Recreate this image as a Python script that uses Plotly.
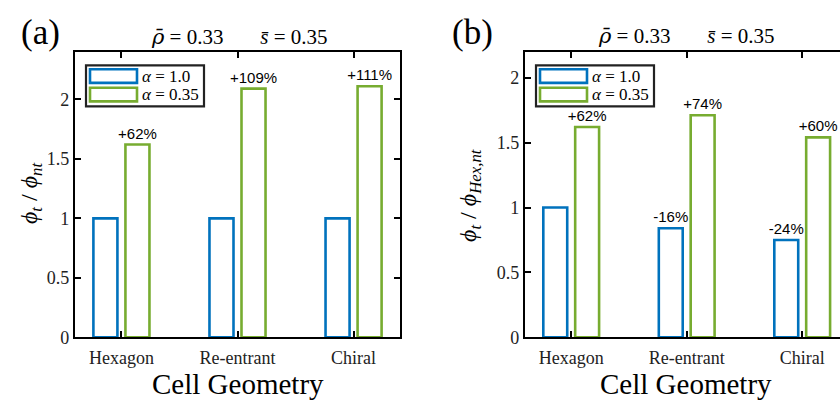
import plotly.graph_objects as go

W, H = 840, 403

categories = ["Hexagon", "Re-entrant", "Chiral"]
series_names = ["α = 1.0", "α = 0.35"]

# (a) each geometry normalised by its own non-textured value
a_alpha_10 = [1.0, 1.0, 1.0]
a_alpha_035 = [1.62, 2.09, 2.11]
a_text_10 = ["", "", ""]
a_text_035 = ["+62%", "+109%", "+111%"]

# (b) every geometry normalised by the non-textured hexagon
b_alpha_10 = [1.0, 0.84, 0.75]
b_alpha_035 = [1.62, 1.71, 1.54]
b_text_10 = ["", "-16%", "-24%"]
b_text_035 = ["+62%", "+74%", "+60%"]

y_ticks = [0, 0.5, 1, 1.5, 2]
y_ticktext = ["0", "0.5", "1", "1.5", "2"]

BLUE = "#0072BD"
GREEN = "#77AC30"
SERIF = "Liberation Serif"
SANS = "Liberation Sans"

# plot areas in pixels: (left, top, right, bottom)
box_a = (75, 53, 400, 346)
box_b = (525, 53, 840, 346)


def px(x):
    return x / W


def py(y):
    return 1 - y / H


fig = go.Figure()

for vals, txt, col, name, xa, ya in [
    (a_alpha_10, a_text_10, BLUE, series_names[0], "x", "y"),
    (a_alpha_035, a_text_035, GREEN, series_names[1], "x", "y"),
    (b_alpha_10, b_text_10, BLUE, series_names[0], "x2", "y2"),
    (b_alpha_035, b_text_035, GREEN, series_names[1], "x2", "y2"),
]:
    fig.add_trace(go.Bar(
        x=categories, y=vals, name=name, xaxis=xa, yaxis=ya,
        marker=dict(color="rgba(255,255,255,0)", line=dict(color=col, width=2.6)),
        text=txt, textposition="outside", constraintext="none",
        textfont=dict(family=SANS, size=15, color="black"),
        cliponaxis=False, showlegend=False,
    ))

axis_common = dict(
    showline=True, linecolor="black", linewidth=2.4,
    ticks="inside", ticklen=6, tickwidth=2, tickcolor="black",
    showgrid=False, zeroline=False,
    tickfont=dict(family=SERIF, size=18, color="#222"),
)

fig.update_layout(
    width=W, height=H, margin=dict(l=0, r=0, t=0, b=0),
    paper_bgcolor="white", plot_bgcolor="white",
    font=dict(family=SERIF),
    barmode="group", bargap=0.448, bargroupgap=0.25,
    xaxis=dict(domain=[px(box_a[0]), px(box_a[2])], range=[-0.4, 2.4],
               mirror="ticks", anchor="y", ticklabelstandoff=3, **axis_common),
    yaxis=dict(domain=[py(box_a[3]), py(box_a[1])], range=[0, 2.4],
               tickvals=y_ticks, ticktext=y_ticktext,
               mirror="ticks", anchor="x", **axis_common),
    xaxis2=dict(domain=[px(box_b[0]), px(box_b[2])], range=[-0.4, -0.4 + 315 / 115.5],
                mirror="ticks", anchor="y2", ticklabelstandoff=3, **axis_common),
    yaxis2=dict(domain=[py(box_b[3]), py(box_b[1])], range=[0, 2.2],
                tickvals=y_ticks, ticktext=y_ticktext,
                mirror=False, anchor="x2", **axis_common),
)

annotations = []
shapes = []


def add_text(x, y, text, size, family=SERIF, angle=0, xanchor="center"):
    annotations.append(dict(
        x=px(x), y=py(y), xref="paper", yref="paper", text=text,
        showarrow=False, textangle=angle, xanchor=xanchor, yanchor="middle",
        font=dict(family=family, size=size, color="black"),
    ))


nb = "\u00a0"
rho_bar = '<span style="font-family:DejaVu Serif"><i>ρ̄</i></span>'
title = f"{rho_bar} = 0.33{nb * 7}<i>s̄</i> = 0.35"

# panel letters, headers, axis titles
add_text(40, 33, "(a)", 35)
add_text(472, 33, "(b)", 35)
add_text(239, 38, title, 21)
add_text(686, 37, title, 21)
add_text(238, 394, "Cell Geometry", 29)
add_text(686, 394, "Cell Geometry", 29)
add_text(31, 198, "<i>ϕ</i><sub><i>t</i></sub> / <i>ϕ</i><sub><i>nt</i></sub>", 24, angle=-90)
add_text(470, 201, "<i>ϕ</i><sub><i>t</i></sub> / <i>ϕ</i><sub><i>Hex,nt</i></sub>", 24, angle=-90)

# legend boxes drawn inside each plot area
for box in (box_a, box_b):
    L, T = box[0], box[1]
    shapes.append(dict(type="rect", xref="paper", yref="paper",
                       x0=px(L + 11), x1=px(L + 129), y0=py(T + 14), y1=py(T + 56),
                       line=dict(color="#222", width=2.2), fillcolor="white", layer="above"))
    for i, (col, name) in enumerate([(BLUE, series_names[0]), (GREEN, series_names[1])]):
        top = T + 18 + i * 19
        shapes.append(dict(type="rect", xref="paper", yref="paper",
                           x0=px(L + 15), x1=px(L + 62), y0=py(top), y1=py(top + 14),
                           line=dict(color=col, width=2.6), fillcolor="white", layer="above"))
        a_txt = "<i>α</i> = " + name.split("= ")[1]
        add_text(L + 65, top + 7, a_txt, 17, xanchor="left")

fig.update_layout(annotations=annotations, shapes=shapes)

fig.write_html("out.html")
